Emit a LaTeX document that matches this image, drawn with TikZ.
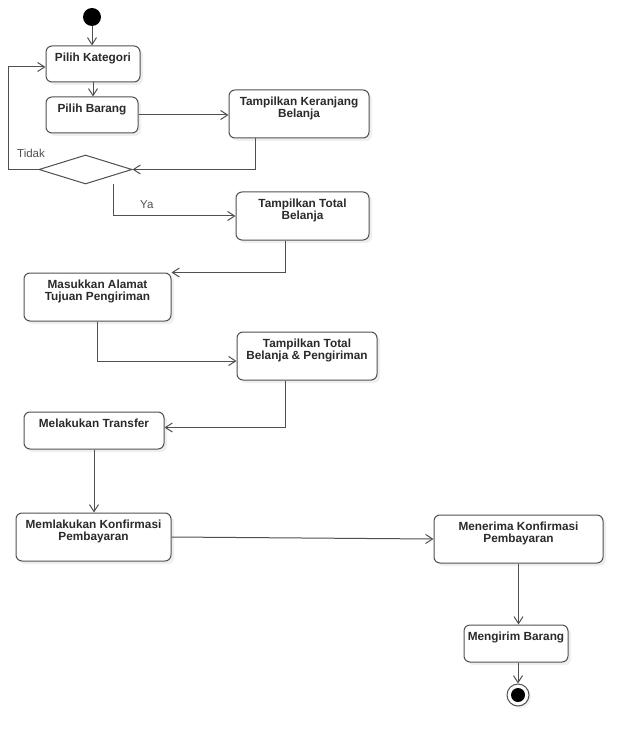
\documentclass[tikz,border=0pt]{standalone}
\usepackage{fontspec}
\setmainfont{Liberation Sans}
\usetikzlibrary{arrows.meta,shapes.geometric,shadows}
\definecolor{edgegrey}{HTML}{505050}
\definecolor{txtgrey}{HTML}{2A2A2A}
\newcommand{\boxfont}{\bfseries\fontsize{11.8}{11.5}\selectfont}

\tikzset{
  act/.style={draw=edgegrey, line width=1pt, rounded corners=6pt, fill=white,
    drop shadow={shadow xshift=3pt, shadow yshift=-3pt, opacity=0.12}},
  acttext/.style={anchor=north, inner sep=0pt, yshift=-7.5pt, align=center,
    font=\boxfont, text=txtgrey},
  flow/.style={draw=edgegrey, line width=1pt, -{Straight Barb[length=7pt,width=9pt]}},
  guard/.style={font=\fontsize{11.5}{12}\selectfont, text=edgegrey, inner sep=0pt}
}

\begin{document}
\begin{tikzpicture}[x=1pt, y=-1pt]
    \useasboundingbox[fill=white] (0,0) rectangle (640,743);
    % start and decision
    \node[circle, fill=black, minimum size=18pt, inner sep=0pt] (start) at (92,17) {};
    \node[diamond, draw=edgegrey, line width=1pt, fill=white, inner sep=0pt,
          minimum width=93pt, minimum height=29pt] (dec) at (85.5,169.5) {};
    % activities
    \node[act, minimum width=94pt,  minimum height=36pt, label={[acttext]north:Pilih Kategori}] (kat) at (93,64) {};
    \node[act, minimum width=92pt,  minimum height=36pt, label={[acttext]north:Pilih Barang}] (brg) at (92,115) {};
    \node[act, minimum width=140pt, minimum height=48pt, label={[acttext]north:Tampilkan Keranjang\\Belanja}] (krj) at (299,114) {};
    \node[act, minimum width=133pt, minimum height=48pt, label={[acttext]north:Tampilkan Total\\Belanja}] (tot) at (302.5,216) {};
    \node[act, minimum width=147pt, minimum height=48pt, label={[acttext]north:Masukkan Alamat\\Tujuan Pengiriman}] (alm) at (97.5,297) {};
    \node[act, minimum width=140pt, minimum height=48pt, label={[acttext]north:Tampilkan Total\\Belanja \& Pengiriman}] (tkr) at (307,356) {};
    \node[act, minimum width=140pt, minimum height=37pt, label={[acttext]north:Melakukan Transfer}] (trf) at (94,430.5) {};
    \node[act, minimum width=155pt, minimum height=48pt, label={[acttext]north:Memlakukan Konfirmasi\\Pembayaran}] (kfm) at (93.5,537) {};
    \node[act, minimum width=169pt, minimum height=48pt, label={[acttext]north:Menerima Konfirmasi\\Pembayaran}] (trm) at (518.5,539) {};
    \node[act, minimum width=104pt, minimum height=37pt, label={[acttext]north:Mengirim Barang}] (krm) at (516,643.5) {};
    % end
    \node[circle, draw=edgegrey, line width=1pt, fill=white, minimum size=22pt, inner sep=0pt,
          drop shadow={shadow xshift=2pt, shadow yshift=-2pt, opacity=0.12}] (end) at (518,695) {};
    \fill[black] (end.center) circle (7pt);
    % guards
    \node[guard, anchor=west] (tidak) at (17,153) {Tidak};
    \node[guard, anchor=west] (ya) at (140,205) {Ya};
    % flows
    \draw[flow] (start) -- (start |- kat.north);
    \draw[flow] (kat.south) -- (kat.south |- brg.north);
    \draw[flow] (brg) -- (krj.west |- brg);
    \draw[flow] ([xshift=-44pt]krj.south) |- (dec.east);
    \draw[flow] (dec.west) -- ++(-30,0) |- ([yshift=-3pt]kat.west);
    \draw[flow] ([xshift=27.5pt]dec.south) |- (tot.west);
    \draw[flow] ([xshift=-17.5pt]tot.south) |- (alm.north east);
    \draw[flow] (alm.south) |- ([yshift=-5pt]tkr.west);
    \draw[flow] ([xshift=-22pt]tkr.south) |- ([yshift=3pt]trf.east);
    \draw[flow] (trf.south) -- (trf.south |- kfm.north);
    \draw[flow] (kfm.east) -- (trm.west);
    \draw[flow] (trm.south) -- (trm.south |- krm.north);
    \draw[flow] (end |- krm.south) -- (end);
\end{tikzpicture}
\end{document}
